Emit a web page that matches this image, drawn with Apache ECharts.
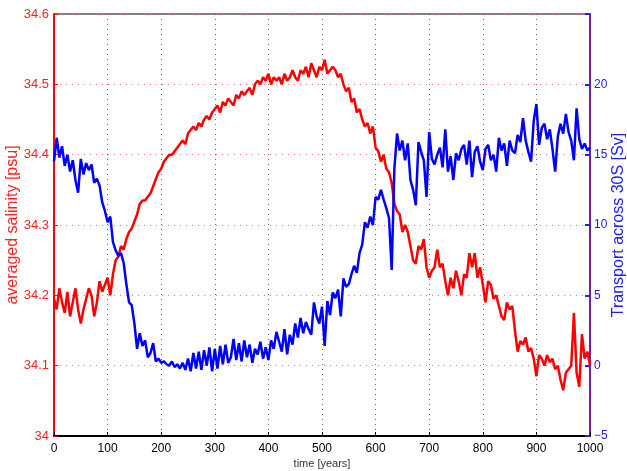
<!DOCTYPE html>
<html>
<head>
<meta charset="utf-8">
<script src="https://cdn.jsdelivr.net/npm/echarts@6/dist/echarts.min.js"></script>
<style>
  html, body { margin: 0; padding: 0; background: #fff; }
  #chart { width: 627px; height: 471px; }
</style>
</head>
<body>
<div id="chart"></div>
<script>
// model output sampled every 5 years
const yearStep = 5;

const salinity = [
  34.195, 34.18, 34.21, 34.19, 34.175, 34.205, 34.17, 34.19, 34.21, 34.18,
  34.16, 34.18, 34.195, 34.21, 34.2, 34.17, 34.19, 34.22, 34.205, 34.215,
  34.225, 34.2, 34.23, 34.25, 34.255, 34.27, 34.265, 34.28, 34.29, 34.295,
  34.305, 34.315, 34.33, 34.335, 34.335, 34.34, 34.345, 34.355, 34.365, 34.375,
  34.38, 34.39, 34.395, 34.4, 34.4, 34.405, 34.41, 34.415, 34.42, 34.415,
  34.43, 34.435, 34.44, 34.435, 34.445, 34.44, 34.45, 34.455, 34.45, 34.46,
  34.465, 34.47, 34.46, 34.475, 34.47, 34.48, 34.475, 34.47, 34.485, 34.48,
  34.49, 34.485, 34.49, 34.495, 34.485, 34.5, 34.505, 34.5, 34.51, 34.505,
  34.515, 34.5, 34.51, 34.505, 34.51, 34.5, 34.515, 34.505, 34.51, 34.52,
  34.51, 34.505, 34.52, 34.515, 34.525, 34.51, 34.53, 34.52, 34.51, 34.525,
  34.52, 34.535, 34.515, 34.52, 34.525, 34.52, 34.51, 34.515, 34.5, 34.49,
  34.495, 34.475, 34.48, 34.46, 34.465, 34.45, 34.44, 34.445, 34.43, 34.44,
  34.41, 34.405, 34.39, 34.4, 34.38, 34.375, 34.36, 34.33, 34.32, 34.315,
  34.29, 34.3, 34.29, 34.27, 34.25, 34.245, 34.27, 34.265, 34.28, 34.24,
  34.225, 34.235, 34.24, 34.265, 34.24, 34.245, 34.22, 34.2, 34.225, 34.21,
  34.235, 34.22, 34.2, 34.23, 34.225, 34.26, 34.24, 34.26, 34.225, 34.24,
  34.215, 34.19, 34.22, 34.215, 34.195, 34.2, 34.185, 34.17, 34.165, 34.19,
  34.18, 34.185, 34.15, 34.12, 34.135, 34.13, 34.14, 34.12, 34.125, 34.11,
  34.085, 34.115, 34.11, 34.1, 34.115, 34.105, 34.11, 34.095, 34.1, 34.08,
  34.065, 34.09, 34.095, 34.1, 34.175, 34.09, 34.07, 34.145, 34.11, 34.12,
  34.1
];

const transport = [
  14.5, 16.2, 14.8, 15.6, 14.2, 15.0, 13.8, 14.6, 13.2, 12.3,
  14.7, 13.6, 14.4, 13.9, 14.3, 13.0, 13.3, 12.8, 11.6, 11.0,
  10.2, 10.6, 8.8, 8.2, 7.8, 8.0, 7.3, 5.8, 4.5, 4.3,
  3.0, 1.2, 2.3, 1.4, 1.8, 0.6, 0.9, 1.6, 0.3, 0.5,
  0.2, 0.3, 0.1, 0.0, 0.3, -0.1, 0.1, -0.2, 0.2, -0.3,
  0.5, -0.4, 0.9, -0.2, 1.0, -0.3, 1.1, 0.0, 1.3, -0.4,
  1.2, -0.2, 1.4, 0.1, 1.5, 0.2, 0.6, 1.9, 0.4, 1.6,
  0.3, 1.8, 0.6, 1.5, 0.2, 1.2, 0.8, 1.7, 0.5, 1.3,
  0.4, 1.8, 1.2, 2.4, 1.7, 1.0, 2.6, 0.8, 2.2, 1.5,
  3.0, 2.0, 3.4, 2.3, 3.1, 2.6, 2.2, 4.5, 3.5, 3.0,
  4.2, 1.4, 4.6, 3.6, 5.2, 4.8, 5.4, 3.5, 6.2, 5.6,
  5.8, 6.5, 7.1, 6.6, 8.0, 8.6, 10.2, 9.8, 10.6, 10.0,
  12.0, 11.8, 12.5, 11.8, 11.2, 10.5, 6.8, 14.0, 16.5, 15.3,
  16.0, 14.6, 15.8, 13.2, 12.5, 11.4, 15.9, 15.2, 14.6, 12.0,
  16.6, 14.7, 14.3, 15.0, 15.5, 14.1, 16.8, 13.8, 14.9, 13.2,
  15.1, 14.6, 15.4, 15.7, 14.3, 16.0, 13.4, 15.2, 15.6, 14.5,
  13.9, 15.4, 15.7, 14.6, 15.0, 13.8, 16.2, 15.3, 15.8, 14.2,
  16.0, 15.3, 15.1, 16.4, 15.9, 17.6, 16.0, 15.2, 14.5, 17.4,
  18.6, 15.7, 16.9, 17.2, 16.1, 16.8, 15.4, 13.8, 16.3, 17.2,
  16.5, 17.9, 16.6, 16.0, 14.6, 18.3, 16.1, 15.4, 15.8, 15.3,
  15.5
];

const years = salinity.map((_, i) => i * yearStep);

const chart = echarts.init(document.getElementById("chart"));

const font = "Liberation Sans, Arial, sans-serif";

const option = {
  animation: false,
  grid: {
    left: 54, right: 37, top: 14, bottom: 35,
    containLabel: false,
    outerBoundsMode: "none",
    show: true, borderColor: "#000", borderWidth: 1
  },
  xAxis: {
    type: "value",
    min: 0, max: 1000, interval: 100,
    name: "time [years]",
    nameLocation: "middle",
    nameGap: 22,
    nameMoveOverlap: false,
    nameTextStyle: { color: "#333", fontSize: 11, fontFamily: font },
    axisLine: { onZero: false, lineStyle: { color: "#000", width: 2 } },
    axisTick: { inside: true, length: 4, lineStyle: { color: "#000" } },
    axisLabel: { color: "#000", fontSize: 12, fontFamily: font, margin: 7, formatter: (v) => String(v) },
    splitLine: { show: true, lineStyle: { color: "#666", type: [1, 4], width: 1 } }
  },
  yAxis: [
    {
      type: "value",
      min: 34, max: 34.6, interval: 0.1,
      position: "left",
      name: "averaged salinity [psu]",
      nameLocation: "middle",
      nameGap: 33,
      nameMoveOverlap: false,
      nameTextStyle: { color: "#ff2020", fontSize: 16, fontFamily: font },
      axisLine: { show: true, onZero: false, lineStyle: { color: "#ff0000", width: 2 } },
      axisTick: { show: true, inside: true, length: 4, lineStyle: { color: "#ff0000" } },
      axisLabel: {
        color: "#ff2020", fontSize: 13, fontFamily: font, margin: 5,
        formatter: (v) => (Math.abs(v - 34) < 1e-6 ? "34" : v.toFixed(1))
      },
      splitLine: { show: true, lineStyle: { color: "#ff7070", type: [1, 5], width: 1 } }
    },
    {
      type: "value",
      min: -5, max: 25, interval: 5,
      position: "right",
      name: "Transport across 30S [Sv]",
      nameLocation: "middle",
      nameGap: 21,
      nameRotate: 90,
      nameMoveOverlap: false,
      nameTextStyle: { color: "#2020ff", fontSize: 16, fontFamily: font },
      axisLine: { show: true, onZero: false, lineStyle: { color: "#6a1fa8", width: 2 } },
      axisTick: { show: true, inside: true, length: 5, lineStyle: { color: "#2020ff", width: 2 } },
      axisLabel: {
        color: "#2020ff", fontSize: 12, fontFamily: font, margin: 4,
        formatter: (v) => (v >= 25 ? "" : v < 0 ? "\u2212" + Math.abs(v) : String(v))
      },
      splitLine: { show: false }
    }
  ],
  series: [
    {
      name: "salinity",
      type: "line",
      yAxisIndex: 0,
      data: years.map((y, i) => [y, salinity[i]]),
      showSymbol: false,
      lineStyle: { color: "#ff0000", width: 2.5 },
      z: 3
    },
    {
      name: "transport",
      type: "line",
      yAxisIndex: 1,
      data: years.map((y, i) => [y, transport[i]]),
      showSymbol: false,
      lineStyle: { color: "#0000ff", width: 2.5 },
      z: 4
    }
  ]
};

chart.setOption(option);
</script>
</body>
</html>
